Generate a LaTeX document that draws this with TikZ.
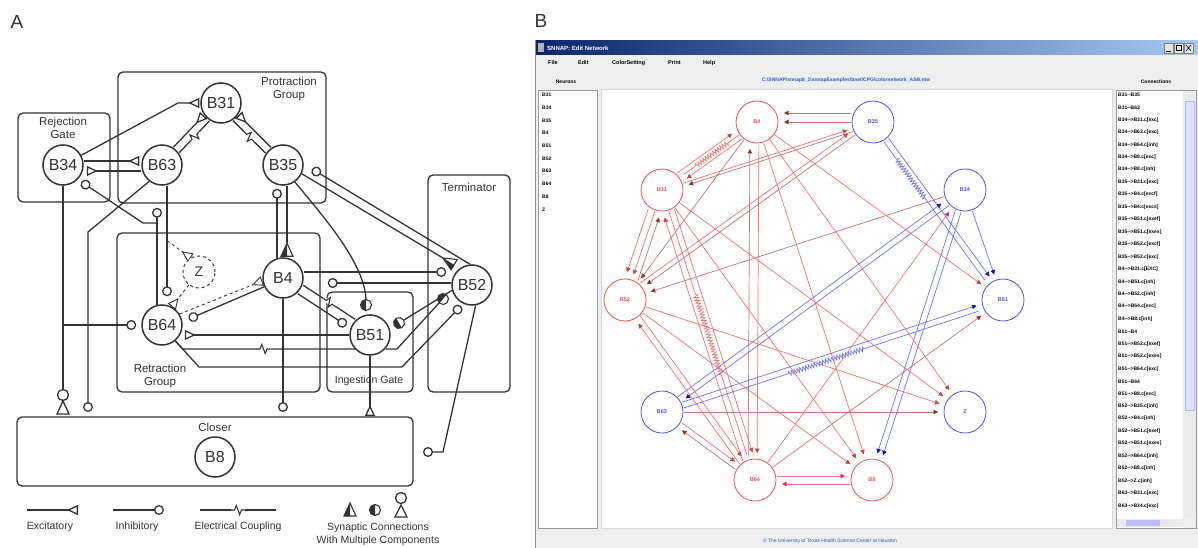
\documentclass[tikz,border=0pt]{standalone}
\usepackage{fontspec}
\setmainfont{Liberation Sans}
\usetikzlibrary{arrows.meta,calc,decorations.markings,decorations.pathmorphing}
\pgfdeclarelayer{back}
\pgfdeclarelayer{bg}
\pgfsetlayers{back,bg,main}
\definecolor{ink}{gray}{0.2}
\definecolor{nred}{RGB}{236,80,80}
\definecolor{nblue}{RGB}{80,80,230}
\definecolor{lred}{RGB}{240,115,115}
\definecolor{dred}{RGB}{150,45,45}
\definecolor{mred}{RGB}{190,120,120}
\definecolor{lblue}{RGB}{115,115,235}
\definecolor{dblue}{RGB}{20,20,180}
\definecolor{tbarA}{RGB}{10,36,106}
\definecolor{tbarB}{RGB}{166,202,240}
\definecolor{winbg}{RGB}{238,238,238}
\definecolor{linkblue}{RGB}{40,90,200}
% parallel connector between two named nodes (panel A)
\newcommand{\pconn}[5]{%
  \coordinate (pc1) at ($(#2)!#4!90:(#3)$);
  \coordinate (pc2) at ($(#3)!#4!-90:(#2)$);
  \draw[#1] ($(pc1)!21pt!(pc2)$) -- ($(pc2)!#5!(pc1)$);}
% edge of panel B
\newcommand{\bE}[4]{%
  \coordinate (q1) at ($(#2)!#4!90:(#3)$);
  \coordinate (q2) at ($(#3)!#4!-90:(#2)$);
  \draw[#1] ($(q1)!22pt!(q2)$) -- ($(q2)!27pt!(q1)$);}
\tikzset{
  ln/.style={draw=ink, line width=1.3pt},
  neu/.style={circle, draw=ink, line width=1.5pt, fill=white, minimum size=40pt, inner sep=0pt, font=\fontsize{16}{16}\selectfont, text=ink},
  grp/.style={draw=ink, line width=1.3pt, rounded corners=5pt},
  glab/.style={font=\fontsize{11.5}{12.5}\selectfont, align=center, text=ink},
  leg/.style={font=\fontsize{10.5}{11}\selectfont, text=ink},
  exc/.style={-{Triangle[open,reversed,length=11pt,width=10pt]}},
  inh/.style={-{Circle[open,length=10pt]}},
  elec/.style={postaction={decorate,decoration={markings,mark=at position #1 with {\fill[white] (-7pt,-2pt) rectangle (7pt,2pt); \draw[ink,line width=1.1pt] (-7pt,0pt)--(-3.5pt,0pt)--(-1.7pt,4.5pt)--(1.7pt,-4.5pt)--(3.5pt,0pt)--(7pt,0pt);}}}},
  elec/.default=0.5,
  pics/halfc/.style={code={\draw[ink,line width=1.1pt,fill=white] (0pt,0pt) circle[radius=5.5pt]; \fill[ink] (0pt,5.5pt) arc[start angle=90,end angle=270,radius=5.5pt] -- cycle;}},
  pics/halftri/.style={code={\draw[ink,line width=1.1pt,fill=white,line join=miter] (0pt,0pt)--(-6pt,-13pt)--(6pt,-13pt)--cycle; \fill[ink] (0pt,0pt)--(-6pt,-13pt)--(0pt,-13pt)--cycle;}},
  bn/.style={circle, line width=0.8pt, fill=white, minimum size=42pt, inner sep=0pt, font=\bfseries\fontsize{5.5}{5.5}\selectfont},
  eR/.style={draw=lred, line width=0.7pt, -{Triangle[length=4.5pt,width=4.5pt,color=nred!85!black]}},
  eD/.style={draw=mred, line width=0.7pt, -{Triangle[length=4.5pt,width=4.5pt,color=dred]}},
  eB/.style={draw=lblue, line width=0.7pt, -{Triangle[length=4.5pt,width=4.5pt,color=dblue]}},
  zR/.style={draw=lred, line width=0.7pt, decorate, decoration={zigzag, amplitude=2.2pt, segment length=3pt, #1}},
  zB/.style={draw=lblue, line width=0.7pt, decorate, decoration={zigzag, amplitude=2.2pt, segment length=3pt, #1}},
  tiny/.style={font=\fontsize{5}{5}\selectfont, inner sep=0pt},
}
\begin{document}
\begin{tikzpicture}[x=1pt,y=-1pt]
\useasboundingbox (0,0) rectangle (1198,548);
% ================= PANEL B chrome =================
\begin{pgfonlayer}{back}
\fill[white] (0,0) rectangle (1198,548);
\fill[winbg] (535,40) rectangle (1198,548);
\draw[black!45] (535.5,40.5) rectangle (1198,548);
\shade[left color=tbarA, right color=tbarB] (536,41) rectangle (1198,55);
\fill[black!30] (538,43) rectangle (544,52);
\foreach \bx in {1164,1174,1184}{\fill[black!10] (\bx,43) rectangle ({\bx+9},53); \draw[black!50,line width=0.3pt] (\bx,43) rectangle ({\bx+9},53);}
\draw[black,line width=0.6pt] (1166,51) -- (1171,51);
\draw[black,line width=0.5pt] (1176,45.5) rectangle (1181,50.5);
\draw[black,line width=0.6pt] (1186,45) -- (1191,51) (1186,51) -- (1191,45);
\fill[white] (538,90) rectangle (597,528);
\draw[black!40,line width=0.4pt] (538,90) rectangle (597,528);
\fill[white] (601,89) rectangle (1112,528);
\draw[black!15,line width=0.4pt] (601,89) rectangle (1112,528);
\fill[white] (1116,90) rectangle (1183,528);
\draw[black!40,line width=0.4pt] (1116,90) rectangle (1196,528);
\fill[black!8] (1184,91) rectangle (1195,518);
\fill[blue!12] (1185,101) rectangle (1194,410);
\draw[blue!30,line width=0.3pt] (1185,101) rectangle (1194,410);
\fill[black!8] (1117,519) rectangle (1183,527);
\fill[blue!25] (1126,520) rectangle (1160,526);
\end{pgfonlayer}
\node[anchor=west, font=\bfseries\fontsize{6}{6}\selectfont, text=white, inner sep=0pt] (ttl) at (547,48) {SNNAP: Edit Network};
\foreach \mx/\mt in {548/File,578/Edit,612/ColorSetting,668/Print,703/Help}
  \node[anchor=west, tiny, font=\bfseries\fontsize{5.5}{5.5}\selectfont] at (\mx,63) {\mt};
\node[tiny, font=\bfseries\fontsize{5}{5}\selectfont] (nhead) at (566,82) {Neurons};
\node[tiny, font=\bfseries\fontsize{5}{5}\selectfont] (chead) at (1156,82) {Connections};
\node[tiny, text=linkblue, font=\bfseries\fontsize{5}{5}\selectfont] (path) at (846,80) {C:\textbackslash SNNAP\textbackslash snnap8\_1\textbackslash snnapExamples\textbackslash bnet\textbackslash CPG\textbackslash colornetwork\_ASB.ntw};
\node[tiny, text=linkblue, font=\fontsize{5}{5}\selectfont] (foot) at (830,541) {\textcopyright\ The University of Texas Health Science Center at Houston};
\foreach \nm [count=\i from 0] in {B31,B34,B35,B4,B51,B52,B63,B64,B8,Z}
  \node[tiny, anchor=west, font=\bfseries\fontsize{5}{5}\selectfont] at (542,{95+12.7*\i}) {\nm};
\begin{scope}
\clip (1116,91) rectangle (1182,518);
\foreach \cn [count=\i from 0] in {{B31{-}{-}B35},{B31{-}{-}B63},{B34{-}{-}>B31.c[exc]},{B34{-}{-}>B63.c[exc]},{B34{-}{-}>B64.c[inh]},{B34{-}{-}>B8.c[exc]},{B34{-}{-}>B8.c[inh]},{B35{-}{-}>B31.c[exc]},{B35{-}{-}>B4.c[excf]},{B35{-}{-}>B4.c[excs]},{B35{-}{-}>B51.c[exef]},{B35{-}{-}>B51.c[exes]},{B35{-}{-}>B52.c[excf]},{B35{-}{-}>B52.c[exc]},{B4{-}{-}>B31.c[EXC]},{B4{-}{-}>B51.c[inh]},{B4{-}{-}>B52.c[inh]},{B4{-}{-}>B64.c[exc]},{B4{-}{-}>B8.c[inh]},{B51{-}{-}B4},{B51{-}{-}>B52.c[exef]},{B51{-}{-}>B52.c[exes]},{B51{-}{-}>B64.c[exc]},{B51{-}{-}B64},{B51{-}{-}>B8.c[exc]},{B52{-}{-}>B35.c[inh]},{B52{-}{-}>B4.c[inh]},{B52{-}{-}>B51.c[exef]},{B52{-}{-}>B51.c[exes]},{B52{-}{-}>B64.c[inh]},{B52{-}{-}>B8.c[inh]},{B52{-}{-}>Z.c[inh]},{B63{-}{-}>B31.c[exc]},{B63{-}{-}>B34.c[exc]}}
  \node[tiny, anchor=west, font=\bfseries\fontsize{5}{5}\selectfont] at (1118,{95+12.45*\i}) {\cn};
\end{scope}
% ================= PANEL B network =================
\node[bn, draw=nred, text=nred] (b4) at (757,122) {B4};
\node[bn, draw=nblue, text=nblue] (b35) at (873,122) {B35};
\node[bn, draw=nblue, text=nblue] (b34) at (965,190) {B34};
\node[bn, draw=nblue, text=nblue] (b51) at (1003,300) {B51};
\node[bn, draw=nblue, text=nblue] (bz) at (965,412) {Z};
\node[bn, draw=nred, text=nred] (b8) at (872,480) {B8};
\node[bn, draw=nred, text=nred] (b64) at (755,480) {B64};
\node[bn, draw=nblue, text=nblue] (b63) at (662,412) {B63};
\node[bn, draw=nred, text=nred] (b52) at (625,300) {B52};
\node[bn, draw=nred, text=nred] (b31) at (662,190) {B31};
\begin{pgfonlayer}{bg}
\bE{eD}{b35}{b4}{-9pt}
\bE{eD}{b35}{b4}{0pt}
\bE{eR}{b31}{b4}{5pt}
\bE{eR}{b4}{b31}{5pt}
\bE{zR={pre length=14pt,post length=14pt}}{b4}{b31}{0pt}
\bE{eR}{b4}{b64}{2pt}
\bE{eD}{b64}{b4}{7pt}
\bE{eR}{b31}{b64}{6pt}
\bE{eR}{b64}{b31}{6pt}
\bE{zR={pre length=88pt,post length=83pt}}{b31}{b64}{0pt}
\bE{eR}{b31}{b52}{0pt}
\bE{eR}{b31}{b52}{-7pt}
\bE{eD}{b52}{b31}{-6pt}
\bE{eD}{b4}{b52}{0pt}
\bE{eD}{b35}{b31}{3pt}
\bE{eD}{b35}{b52}{0pt}
\bE{eR}{b52}{b35}{5pt}
\bE{eR}{b31}{b35}{0pt}
\bE{eR}{b52}{b64}{3pt}
\bE{eR}{b64}{b52}{3pt}
\bE{eR}{b52}{bz}{0pt}
\bE{eR}{b52}{b8}{0pt}
\bE{eD}{b63}{bz}{0pt}
\bE{eR}{b63}{b64}{3pt}
\bE{eD}{b64}{b63}{3pt}
\bE{eD}{b64}{b51}{0pt}
\bE{eR}{b64}{b34}{0pt}
\bE{eR}{b4}{b51}{0pt}
\bE{eR}{b4}{bz}{0pt}
\bE{eR}{b4}{b8}{0pt}
\bE{eR}{b64}{b8}{4pt}
\bE{eR}{b8}{b64}{4pt}
\bE{eR}{b31}{b8}{0pt}
\bE{eR}{b31}{bz}{0pt}
\bE{eD}{b34}{b52}{0pt}
\bE{eB}{b35}{b51}{3pt}
\bE{zB={pre length=22pt,post length=100pt}}{b35}{b51}{-3pt}
\bE{eB}{b34}{b51}{0pt}
\bE{eB}{b63}{b51}{3pt}
\bE{zB={pre length=110pt,post length=120pt}}{b63}{b51}{-3pt}
\bE{eB}{b63}{b34}{3pt}
\bE{eB}{b34}{b63}{3pt}
\bE{eB}{b34}{b8}{3pt}
\bE{eB}{b34}{b8}{-3pt}
\end{pgfonlayer}
% ================= PANEL labels =================
\node[font=\fontsize{19}{19}\selectfont, text=ink] (labA) at (17,22) {A};
\node[font=\fontsize{19}{19}\selectfont, text=ink] (labB) at (541,21) {B};
% ================= PANEL A =================
\node[neu] (B31) at (221,103) {B31};
\node[neu] (B34) at (63,165) {B34};
\node[neu] (B63) at (162,165) {B63};
\node[neu] (B35) at (283,165) {B35};
\node[neu] (B4) at (283,278) {B4};
\node[neu, dashed, line width=1pt, minimum size=32pt, font=\fontsize{14}{14}\selectfont] (Z) at (199,272) {Z};
\node[neu] (B64) at (162,325) {B64};
\node[neu] (B51) at (370,335) {B51};
\node[neu] (B52) at (472,285) {B52};
\node[neu] (B8) at (215,457) {B8};
% group boxes and labels
\begin{pgfonlayer}{bg}
\draw[grp] (118,72) rectangle (326,203);
\draw[grp] (18,113) rectangle (110,202);
\draw[grp] (117,233) rectangle (320,392);
\draw[grp] (327,292) rectangle (413,392);
\draw[grp] (428,175) rectangle (510,392);
\draw[grp] (17,417) rectangle (413,486);
\end{pgfonlayer}
\node[glab] (lprot) at (289,89) {Protraction\\Group};
\node[glab] (lrej) at (63,128) {Rejection\\Gate};
\node[glab] (lterm) at (469,187) {Terminator};
\node[glab] (lretr) at (160,376) {Retraction\\Group};
\node[glab, font=\fontsize{10.5}{11}\selectfont] (ling) at (369,381) {Ingestion Gate};
\node[glab] (lclos) at (215,427) {Closer};
% connections
\begin{pgfonlayer}{bg}
% B34 -> B31
\draw[ln,exc] (B34.28) -- (178,103) -- ([xshift=-1pt]B31.west);
% B34 <-> B63
\draw[ln,exc] ($(B34.east)+(0,-4)$) -- ($(B63.west)+(-2,-4)$);
\draw[ln,exc] ($(B63.west)+(0,6)$) -- ($(B34.east)+(3,6)$);
% B63 - B31 and B35 - B31
\pconn{ln,exc}{B63}{B31}{4pt}{21pt}
\pconn{ln,elec}{B63}{B31}{-4pt}{21pt}
\pconn{ln,exc}{B35}{B31}{-4pt}{21pt}
\pconn{ln,elec}{B35}{B31}{4pt}{21pt}
% B35 <-> B4
\draw[ln] ($(B35.south)+(4,0)$) -- ($(B4.north)+(4,-14)$) coordinate (t4);
\draw[ln,inh] ($(B4.north)+(-6,1)$) -- ($(B35.south)+(-6,3)$);
% B35 -> B51
\draw[ln] (B35.-55) .. controls (322,215) and (364,262) .. (366,299) coordinate (t51);
% B35 -> B52 and B52 -| B35
\draw[ln] (B35.-25) -- (443,258) coordinate (t52);
\draw[ln,inh] (B52.95) -- (312,169);
% B4 <-> B52
\draw[ln,inh] ($(B4.east)+(0,-6)$) -- ($(B52.west)+(-5,-13)$);
\draw[ln,inh] ($(B52.west)+(0,-2)$) -- ($(B4.east)+(24,5)$);
% B4 - B51
\pconn{ln,elec}{B4}{B51}{5pt}{21pt}
\pconn{ln,inh}{B4}{B51}{-5pt}{25pt}
% B4 -| B64, B64 -> B4 dashed
\draw[ln,inh] (B4.205) -- ($(B64.east)+(6,-6)$);
\draw[ln,dashed,line width=0.9pt,exc] (B64.32) -- ($(B4.west)+(0,3)$);
% B63 -> Z, Z -> B64 dashed
\coordinate (zb) at ($(B63.south)+(5,55)$);
\draw[ln,dashed,line width=0.9pt,exc] (zb) -- (Z.120);
\draw[ln,dashed,line width=0.9pt,exc] (Z.232) -- (B64.62);
% B63 -| B64, B64 -| B63, B64 -| B34
\draw[ln,inh] ($(B63.south)+(5,0)$) -- ($(B64.north)+(5,-8)$);
\draw[ln,inh] ($(B64.north)+(-5,1)$) -- ($(B63.south)+(-5,22)$);
\coordinate (br) at (157,223);
\draw[ln,inh] (br) -- (143,223) -- ($(B34.-42)+(3,3)$);
% B34 -> B8 (multiple), B34 -| B64
\draw[ln] (B34.south) -- (63,390);
\draw[ln,inh] (63,325) -- ($(B64.west)+(-5,0)$);
% B63 -| B8
\draw[ln,inh] (B63.232) -- (88,232) -- (88,412);
% B4 -| B8, B51 -> B8, B52 -| B8
\draw[ln,inh] (B4.south) -- (283,412);
\draw[ln,exc] (B51.south) -- (370,416);
\draw[ln,inh] (B52.-80) -- (443,452) -- (423,452);
% B51 -> B64, B64 ~ B51
\draw[ln,exc] (B51.west) -- ($(B64.east)+(2,10)$);
\draw[ln,elec] (B64.-50) -- (182.7,349) -- ($(B51.west)+(6,14)$);
% B64 -| B52
\draw[ln,inh] (B64.-50) -- (199,367) -- (402,367) -- (461,306);
% B51 <-> B52 multiple
\draw[ln] ($(B51.east)+(-5,14)$) -- (397,349) -- (439,303);
\draw[ln] (B52.195) -- (404,320);
\end{pgfonlayer}
% terminals with multiple components
\pic at (t4) {halftri};
\pic[rotate=59] at (t52) {halftri};
\pic at (366,305) {halfc};
\pic[rotate=30] at (399,323) {halfc};
\pic[rotate=-40] at (443,299) {halfc};
\draw[ln,fill=white] (63,395) circle (5.5pt);
\draw[ln,fill=white,line join=miter] (63,401) -- (57,414) -- (69,414) -- cycle;
% legend
\draw[ln,exc] (27,510) -- (78,510);
\node[leg] (lexc) at (50,527) {Excitatory};
\draw[ln,inh] (113,510) -- (164,510);
\node[leg] (linh) at (137,527) {Inhibitory};
\draw[ln,elec] (200,510) -- (276,510);
\node[leg] (lele) at (238,527) {Electrical Coupling};
\pic at (350,503) {halftri};
\pic at (375,510) {halfc};
\draw[ln,fill=white] (401,498) circle (5.5pt);
\draw[ln,fill=white,line join=miter] (401,505) -- (395,517) -- (407,517) -- cycle;
\node[leg] (lsyn) at (378,528) {Synaptic Connections};
\node[leg] (lwmc) at (378,541) {With Multiple Components};
\end{tikzpicture}
\end{document}
